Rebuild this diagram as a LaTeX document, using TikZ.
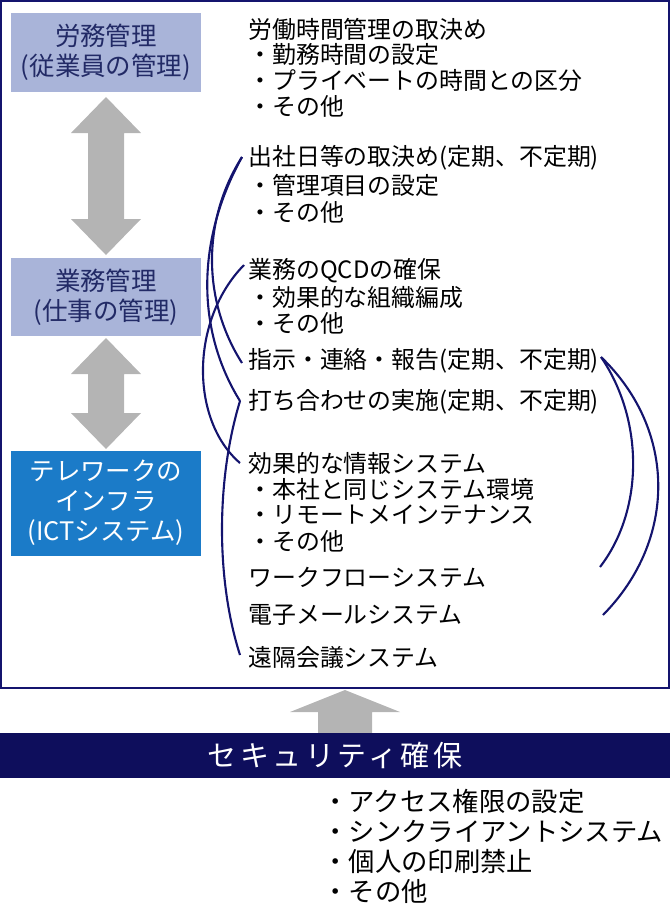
\documentclass[tikz,border=0pt]{standalone}
\usepackage{fontspec}
\setmainfont{Noto Sans CJK JP}
\definecolor{NavyLine}{HTML}{14146E}
\definecolor{LavendeBox}{HTML}{A9B4D9}
\definecolor{BleuBox}{HTML}{1B7BC8}
\definecolor{GrisFleche}{HTML}{B4B4B4}
\definecolor{NavyBar}{HTML}{0E0E5C}
\definecolor{TexteBox}{HTML}{222A66}
\usetikzlibrary{positioning}
\tikzset{
	kanri/.style={fill=LavendeBox,text=TexteBox,minimum width=3.82cm,align=center,inner sep=1pt,font=\fontsize{14.5}{17}\selectfont},
	item/.style={anchor=west,inner sep=0pt,font=\fontsize{13.6}{15}\selectfont},
	lien/.style={NavyLine,line width=1.2pt},
	fleche/.style={fill=GrisFleche}
}
\begin{document}
\begin{tikzpicture}[x=0.02cm,y=-0.02cm]
	\useasboundingbox (0,0) rectangle (670,921);
	% cadre
	\draw[NavyLine,line width=0.8pt] (1,1) rectangle (669,688);
	%
	\node[kanri,minimum height=1.58cm] at (106,52) (RM) {労務管理\\(従業員の管理)};
	\node[kanri,minimum height=1.56cm] at (106,297) (GM) {業務管理\\(仕事の管理)};
	\node[kanri,minimum height=2.1cm,fill=BleuBox,text=white] at (106,503) (IF) {テレワークの\\インフラ\\(ICTシステム)};
	% fleches doubles
	\foreach \ya/\yb in {97/255,338/449}{
		\fill[fleche] (106,\ya) -- (141,\ya+36) -- (124,\ya+36) -- (124,\yb-36) -- (141,\yb-36) -- (106,\yb) -- (71,\yb-36) -- (88,\yb-36) -- (88,\ya+36) -- (71,\ya+36) -- cycle;
	}
	% textes
	\node[item] at (248,29) (t1) {労働時間管理の取決め};
	\node[item] at (248,54) {・勤務時間の設定};
	\node[item] at (248,80) {・プライベートの時間との区分};
	\node[item] at (248,106) {・その他};
	\node[item] at (248,158) (t2) {出社日等の取決め(定期、不定期)};
	\node[item] at (248,185) {・管理項目の設定};
	\node[item] at (248,212) {・その他};
	\node[item] at (248,271) (t3) {業務のQCDの確保};
	\node[item] at (248,297) {・効果的な組織編成};
	\node[item] at (248,323) {・その他};
	\node[item] at (248,361) (t4) {指示・連絡・報告(定期、不定期)};
	\node[item] at (248,402) (t5) {打ち合わせの実施(定期、不定期)};
	\node[item] at (248,463) (t6) {効果的な情報システム};
	\node[item] at (248,489) {・本社と同じシステム環境};
	\node[item] at (248,515) {・リモートメインテナンス};
	\node[item] at (248,541) {・その他};
	\node[item] at (248,577) (t7) {ワークフローシステム};
	\node[item] at (248,615) (t8) {電子メールシステム};
	\node[item] at (248,657) (t9) {遠隔会議システム};
	% liens
	\coordinate (a2) at (242,157);
	\coordinate (a4) at (242,363);
	\coordinate (a5) at (240,401);
	\coordinate (a3) at (244,265);
	\coordinate (a6) at (240,463);
	\coordinate (a9) at (240,655);
	\coordinate (b4) at (601,357);
	\coordinate (b7) at (600,567);
	\coordinate (b8) at (603,615);
	\draw[lien] (a2) .. controls (202,220) and (202,300) .. (a4);
	\draw[lien] (a2) .. controls (196,240) and (196,330) .. (a5);
	\draw[lien] (a3) .. controls (190,320) and (190,420) .. (a6);
	\draw[lien] (a5) .. controls (216,480) and (216,580) .. (a9);
	\draw[lien] (b4) .. controls (644,420) and (644,510) .. (b7);
	\draw[lien] (b4) .. controls (677,430) and (677,540) .. (b8);
	% securite
	\fill[fleche] (345,690) -- (400,712) -- (372,712) -- (372,733) -- (318,733) -- (318,712) -- (290,712) -- cycle;
	\fill[NavyBar] (0,733) rectangle (670,778);
	\node[text=white,font=\fontsize{16.5}{18}\selectfont\addfontfeature{LetterSpace=12}] at (335,755) (SEC) {セキュリティ確保};
	\node[item,font=\fontsize{15}{17}\selectfont] at (322,801) (s1) {・アクセス権限の設定};
	\node[item,font=\fontsize{15}{17}\selectfont] at (322,831) {・シンクライアントシステム};
	\node[item,font=\fontsize{15}{17}\selectfont] at (322,861) {・個人の印刷禁止};
	\node[item,font=\fontsize{15}{17}\selectfont] at (322,891) {・その他};
\end{tikzpicture}
\end{document}
